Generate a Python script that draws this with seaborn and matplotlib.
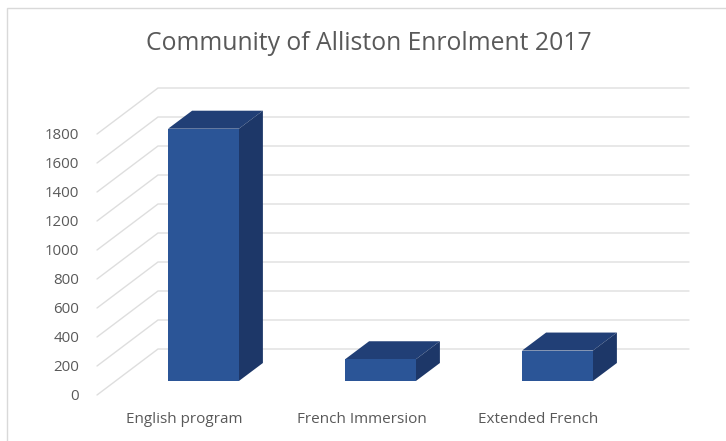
import matplotlib
matplotlib.use('Agg')
import matplotlib.pyplot as plt
import matplotlib.transforms as mtrans
from matplotlib.patches import Polygon, Rectangle
import pandas as pd
import seaborn as sns

# values
programs = ['English program', 'French Immersion', 'Extended French']
students = [1740, 150, 210]
y_ticks = [0, 200, 400, 600, 800, 1000, 1200, 1400, 1600, 1800]

W, H = 726, 441
FRONT = '#2b5597'
TOP = '#213f76'
SIDE = '#1d3768'
GRID = '#dedede'
TEXT = '#595959'

sns.set_theme(style='white')
plt.rcParams['font.family'] = ['Open Sans', 'DejaVu Sans']

fig = plt.figure(figsize=(W / 100, H / 100), dpi=100)
# axes is the plane the front faces of the bars stand on
ax = fig.add_axes([115 / W, 1 - 381 / H, 531 / W, 261 / H])
df = pd.DataFrame({'program': programs, 'students': students})
sns.barplot(data=df, x='program', y='students', color=FRONT, saturation=1, width=0.4,
            edgecolor='none', linewidth=0, ax=ax, zorder=3)
ax.set_xlim(-0.5, 2.5)
ax.set_ylim(0, 1800)
ax.patch.set_alpha(0)
sns.despine(ax=ax, left=True, bottom=True, top=True, right=True)
ax.set_xlabel('')
ax.set_ylabel('')


def to_px(x, y):
    return ax.transData.transform((x, y))


disp = mtrans.IdentityTransform()

# walls: floor runs from (-18,-14) px in front of the bar plane to (+43,+32) behind it
front_dx, front_dy = -18, -14
back_dx, back_dy = 43, 32
for v in y_ticks:
    x0, y0 = to_px(-0.5, v)
    x1, y1 = to_px(2.5, v)
    ax.plot([x0 + front_dx, x0 + back_dx, x1 + back_dx], [y0 + front_dy, y0 + back_dy, y0 + back_dy],
            transform=disp, color=GRID, lw=1.0, zorder=1, clip_on=False, solid_joinstyle='miter')

# bar depth, drawn next to each front face
depth_dx, depth_dy = 24, 18
for bar in ax.patches:
    x, w, h = bar.get_x(), bar.get_width(), bar.get_height()
    (xa, ya), (xb, yb) = to_px(x, 0), to_px(x + w, h)
    ax.add_patch(Polygon([(xa, yb), (xb, yb), (xb + depth_dx, yb + depth_dy), (xa + depth_dx, yb + depth_dy)],
                         transform=disp, fc=TOP, ec='none', zorder=2, clip_on=False))
    ax.add_patch(Polygon([(xb, ya), (xb + depth_dx, ya + depth_dy), (xb + depth_dx, yb + depth_dy), (xb, yb)],
                         transform=disp, fc=SIDE, ec='none', zorder=2, clip_on=False))

# ticks sit on the front edge of the floor
ax.set_yticks(y_ticks)
ax.tick_params(axis='y', length=0, pad=0, labelsize=10.8, labelcolor=TEXT)
ax.tick_params(axis='x', length=0, pad=22, labelsize=11, labelcolor=TEXT)
for label in ax.get_yticklabels():
    label.set_transform(label.get_transform() + mtrans.Affine2D().translate(-36, -13.5))
for label in ax.get_xticklabels():
    label.set_transform(label.get_transform() + mtrans.Affine2D().translate(-19, 0))

fig.text(369 / W, 1 - 44 / H, 'Community of Alliston Enrolment 2017', ha='center', va='center',
         fontsize=17.8, color=TEXT)

# chart frame
fig.add_artist(Rectangle((7 / W, -0.02), 1, 1 - 8 / H + 0.02, transform=fig.transFigure,
                         fc='none', ec='#d9d9d9', lw=1))

fig.savefig('out.png', dpi=100)
